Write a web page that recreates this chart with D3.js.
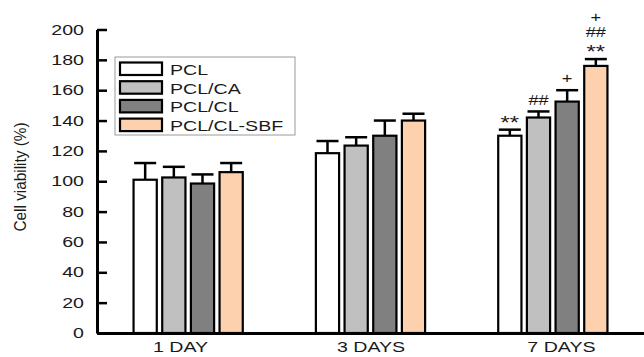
<!DOCTYPE html>
<html>
<head>
<meta charset="utf-8">
<script src="https://cdn.jsdelivr.net/npm/d3@7"></script>
<style>
  html, body { margin: 0; padding: 0; background: #fff; }
  svg { display: block; }
  text { font-family: "Liberation Sans", Arial, sans-serif; fill: #1a1a1a; }
</style>
</head>
<body>
<svg id="chart" width="644" height="357"></svg>
<script>
// ---- data ----
const categories = ["1 DAY", "3 DAYS", "7 DAYS"];
const series = ["PCL", "PCL/CA", "PCL/CL", "PCL/CL-SBF"];
const valuesPCL   = [101, 118.5, 130];
const valuesPCLCA = [102.5, 123.5, 142];
const valuesPCLCL = [98.5, 130, 152.5];
const valuesSBF   = [106, 140, 176];
const errPCL   = [11, 8, 4];
const errPCLCA = [7, 5.5, 4];
const errPCLCL = [6, 10, 7.5];
const errSBF   = [6, 4.5, 4.5];
// significance marks (bottom to top), per series per category
const marksPCL   = [[], [], ["**"]];
const marksPCLCA = [[], [], ["##"]];
const marksPCLCL = [[], [], ["+"]];
const marksSBF   = [[], [], ["**", "##", "+"]];
const yTicks = [0, 20, 40, 60, 80, 100, 120, 140, 160, 180, 200];
const yLabel = "Cell viability (%)";
const colors = ["#ffffff", "#c0c0c0", "#808080", "#fdd0ae"];

const allValues = [valuesPCL, valuesPCLCA, valuesPCLCL, valuesSBF];
const allErr = [errPCL, errPCLCA, errPCLCL, errSBF];
const allMarks = [marksPCL, marksPCLCA, marksPCLCL, marksSBF];

(function () {
const SX = 1.4; // horizontal text stretch of the original figure

const svg = d3.select("#chart");
const mLeft = 97, mRight = 644, mBottom = 333, mTop = 29.5;

const y = d3.scaleLinear().domain([0, 200]).range([mBottom, mTop]);
const x0 = d3.scaleBand().domain(categories).range([mLeft, mRight])
  .paddingInner(0.39).paddingOuter(0.195);
const x1 = d3.scaleBand().domain(series).range([0, x0.bandwidth()]).paddingInner(0.12);
const xLab = d3.scalePoint().domain(categories).range([mLeft, mRight]).padding(0.436);

// bars
const data = [];
categories.forEach((c, ci) => series.forEach((s, si) => {
  data.push({c, s, si, v: allValues[si][ci], e: allErr[si][ci], m: allMarks[si][ci]});
}));

const g = svg.append("g");
const bw = x1.bandwidth();
g.selectAll("rect.bar").data(data).join("rect")
  .attr("class", "bar")
  .attr("x", d => x0(d.c) + x1(d.s) + 1)
  .attr("y", d => y(d.v))
  .attr("width", bw - 2)
  .attr("height", d => y(0) - y(d.v))
  .attr("fill", d => colors[d.si])
  .attr("stroke", "#000")
  .attr("stroke-width", 2.2);

// error bars
const eg = g.selectAll("g.err").data(data).join("g").attr("class", "err")
  .attr("stroke", "#000").attr("stroke-width", 2.5);
eg.append("line")
  .attr("x1", d => x0(d.c) + x1(d.s) + bw / 2)
  .attr("x2", d => x0(d.c) + x1(d.s) + bw / 2)
  .attr("y1", d => y(d.v))
  .attr("y2", d => y(d.v + d.e));
eg.append("line")
  .attr("x1", d => x0(d.c) + x1(d.s) + bw / 2 - 11)
  .attr("x2", d => x0(d.c) + x1(d.s) + bw / 2 + 11)
  .attr("y1", d => y(d.v + d.e))
  .attr("y2", d => y(d.v + d.e));

// significance marks
data.forEach(d => {
  d.m.forEach((t, i) => {
    const cx = x0(d.c) + x1(d.s) + bw / 2;
    const isStar = t.indexOf("*") >= 0;
    const cy = y(d.v + d.e) - 12 - i * 15;
    svg.append("text")
      .attr("transform", `translate(${cx},${cy}) scale(${isStar ? 1.25 : 1.3},1)`)
      .attr("text-anchor", "middle")
      .attr("dominant-baseline", "central")
      .attr("dy", isStar ? "0.25em" : "0")
      .style("font-size", isStar ? "19px" : "14px")
      .text(t);
  });
});

// y axis
const yAxis = svg.append("g").attr("transform", `translate(${mLeft},0)`)
  .call(d3.axisLeft(y).tickValues(yTicks).tickSizeInner(-10).tickSizeOuter(0).tickPadding(13));
yAxis.select(".domain").attr("stroke", "#000").attr("stroke-width", 3);
yAxis.selectAll(".tick line").attr("stroke", "#000").attr("stroke-width", 2.5);
yAxis.selectAll(".tick text")
  .attr("x", null).attr("dy", null)
  .attr("transform", `translate(-13,0) scale(${SX},1)`)
  .attr("dominant-baseline", "central")
  .style("font-size", "14px")
  .style("font-family", "'Liberation Sans', Arial, sans-serif")
  .attr("fill", "#1a1a1a");

// x axis
const xAxis = svg.append("g").attr("transform", `translate(0,${mBottom})`)
  .call(d3.axisBottom(xLab).tickSize(0).tickSizeOuter(0).tickPadding(0));
xAxis.select(".domain").attr("stroke", "#000").attr("stroke-width", 3);
xAxis.selectAll(".tick text")
  .attr("y", null).attr("dy", null)
  .attr("transform", `translate(0,19) scale(${SX},1)`)
  .style("font-size", "14px")
  .style("font-family", "'Liberation Sans', Arial, sans-serif")
  .attr("fill", "#1a1a1a");

// y label
svg.append("text")
  .attr("transform", `translate(20,177) scale(1.2,1.18) rotate(-90)`)
  .attr("text-anchor", "middle")
  .attr("dominant-baseline", "central")
  .style("font-size", "13px")
  .text(yLabel);

// legend
const legX = 115, legY = 57;
const leg = svg.append("g");
leg.append("rect").attr("x", legX).attr("y", legY).attr("width", 180).attr("height", 78)
  .attr("fill", "#fff").attr("stroke", "#9a9a9a").attr("stroke-width", 1);
series.forEach((s, i) => {
  const ry = legY + 5.5 + i * 18.7;
  leg.append("rect").attr("x", legX + 5).attr("y", ry).attr("width", 42).attr("height", 12.5)
    .attr("fill", colors[i]).attr("stroke", "#000").attr("stroke-width", 2.2);
  leg.append("text")
    .attr("transform", `translate(${legX + 55},${ry + 12.3}) scale(${SX},1)`)
    .style("font-size", "14px")
    .text(s);
});
})();
</script>
</body>
</html>
